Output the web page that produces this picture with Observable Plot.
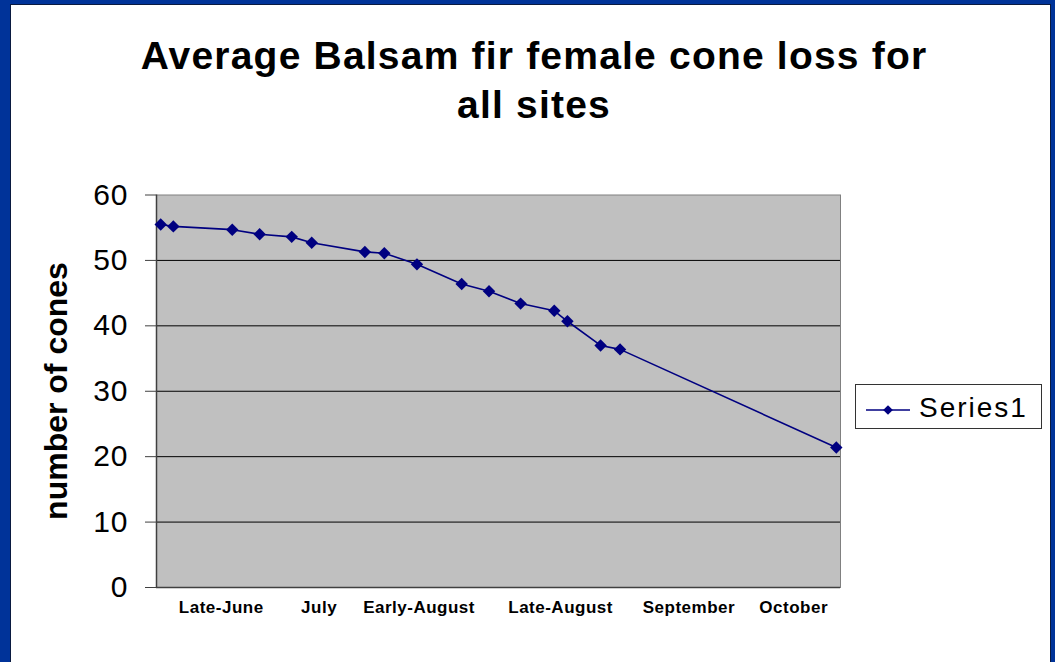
<!DOCTYPE html>
<html>
<head>
<meta charset="utf-8">
<script src="https://cdn.jsdelivr.net/npm/d3@7"></script>
<script src="https://cdn.jsdelivr.net/npm/@observablehq/plot@0.6"></script>
<style>
  html, body { margin: 0; padding: 0; }
  body { width: 1055px; height: 662px; background: #003399; position: relative; overflow: hidden;
         font-family: "Liberation Sans", Arial, sans-serif; }
  #panel { position: absolute; left: 10px; top: 4px; width: 1039px; height: 700px; background: #fff;
           border-left: 1px solid #0a1a40; border-top: 1px solid #0a1a40; border-right: 1px solid #0a1a40; }
  #title { position: absolute; left: 34px; top: 31px; width: 1000px; text-align: center;
           font-weight: bold; font-size: 39px; line-height: 49px; letter-spacing: 1.2px; color: #000; }
  #ylabel { position: absolute; left: 56px; top: 391px; transform: translate(-50%, -50%) rotate(-90deg);
            white-space: nowrap; font-weight: bold; font-size: 32px; line-height: 32px; color: #000; }
  #chart { position: absolute; left: 0; top: 150px; }
  #legend { position: absolute; left: 855px; top: 384px; width: 187px; height: 45px; box-sizing: border-box;
            border: 1px solid #333; background: #fff; }
  #legend svg { position: absolute; left: 0; top: 0; }
  #legend span { position: absolute; left: 63px; top: 8px; font-size: 28px; line-height: 30px; letter-spacing: 2px; color: #000; }
  g[aria-label="x-axis tick label"] text { letter-spacing: 0.5px; }
  g[aria-label="y-axis tick label"] text { letter-spacing: 1px; }
</style>
</head>
<body>
<div id="panel"></div>
<div id="title">Average Balsam fir female cone loss for<br>all sites</div>
<div id="ylabel">number of cones</div>
<div id="chart"></div>
<div id="legend"></div>
<script>
// ---- data ----
const days  = [0.8, 3.2, 14.4, 19.6, 25.7, 29.5, 39.6, 43.3, 49.5, 58.0, 63.2, 69.2, 75.6, 78.1, 84.4, 88.1, 129.2];
const cones = [55.5, 55.2, 54.7, 54.0, 53.6, 52.7, 51.3, 51.1, 49.4, 46.4, 45.3, 43.4, 42.3, 40.7, 37.0, 36.4, 21.4];
const periodLabels = ["Late-June", "July", "Early-August", "Late-August", "September", "October"];
const periodDays   = [12.3, 30.9, 49.9, 76.8, 101.2, 121.1];
const yTicks = [0, 10, 20, 30, 40, 50, 60];
const gridValues = [10, 20, 30, 40, 50];
const seriesName = "Series1";

const data = days.map((d, i) => ({day: d, cones: cones[i]}));
const labelOf = new Map(periodDays.map((d, i) => [d, periodLabels[i]]));

const chart = Plot.plot({
  width: 860,
  height: 500,
  marginLeft: 156,
  marginRight: 20,
  marginTop: 44.5,
  marginBottom: 63,
  style: {fontFamily: "'Liberation Sans', Arial, sans-serif", background: "transparent", color: "#000"},
  x: {domain: [0, 130]},
  y: {domain: [0, 60]},
  marks: [
    Plot.frame({fill: "#C0C0C0", stroke: "#808080"}),
    Plot.ruleY(gridValues, {stroke: "#000", strokeWidth: 1}),
    Plot.ruleX([0], {stroke: "#404040", strokeWidth: 1.5}),
    Plot.ruleY([0], {stroke: "#404040", strokeWidth: 1.5}),
    Plot.axisY({ticks: yTicks, tickSize: 11, tickPadding: 17, fontSize: 30, stroke: "#404040", label: null}),
    Plot.axisX({ticks: periodDays, tickFormat: d => labelOf.get(d), tickSize: 0, tickPadding: 13,
                fontSize: 17, fontWeight: "bold", label: null}),
    Plot.line(data, {x: "day", y: "cones", stroke: "#000080", strokeWidth: 1.6}),
    Plot.dot(data, {x: "day", y: "cones", symbol: "diamond2", fill: "#000080", r: 5.6})
  ]
});
document.getElementById("chart").appendChild(chart);

// legend
const leg = document.getElementById("legend");
const ls = d3.create("svg").attr("width", 60).attr("height", 43);
ls.append("line").attr("x1", 10).attr("x2", 54).attr("y1", 25).attr("y2", 25)
  .attr("stroke", "#000080").attr("stroke-width", 1.6);
ls.append("path").attr("d", d3.symbol(d3.symbolDiamond2, 60)()).attr("transform", "translate(32,25)")
  .attr("fill", "#000080");
leg.appendChild(ls.node());
const sp = document.createElement("span");
sp.textContent = seriesName;
leg.appendChild(sp);
</script>
</body>
</html>
